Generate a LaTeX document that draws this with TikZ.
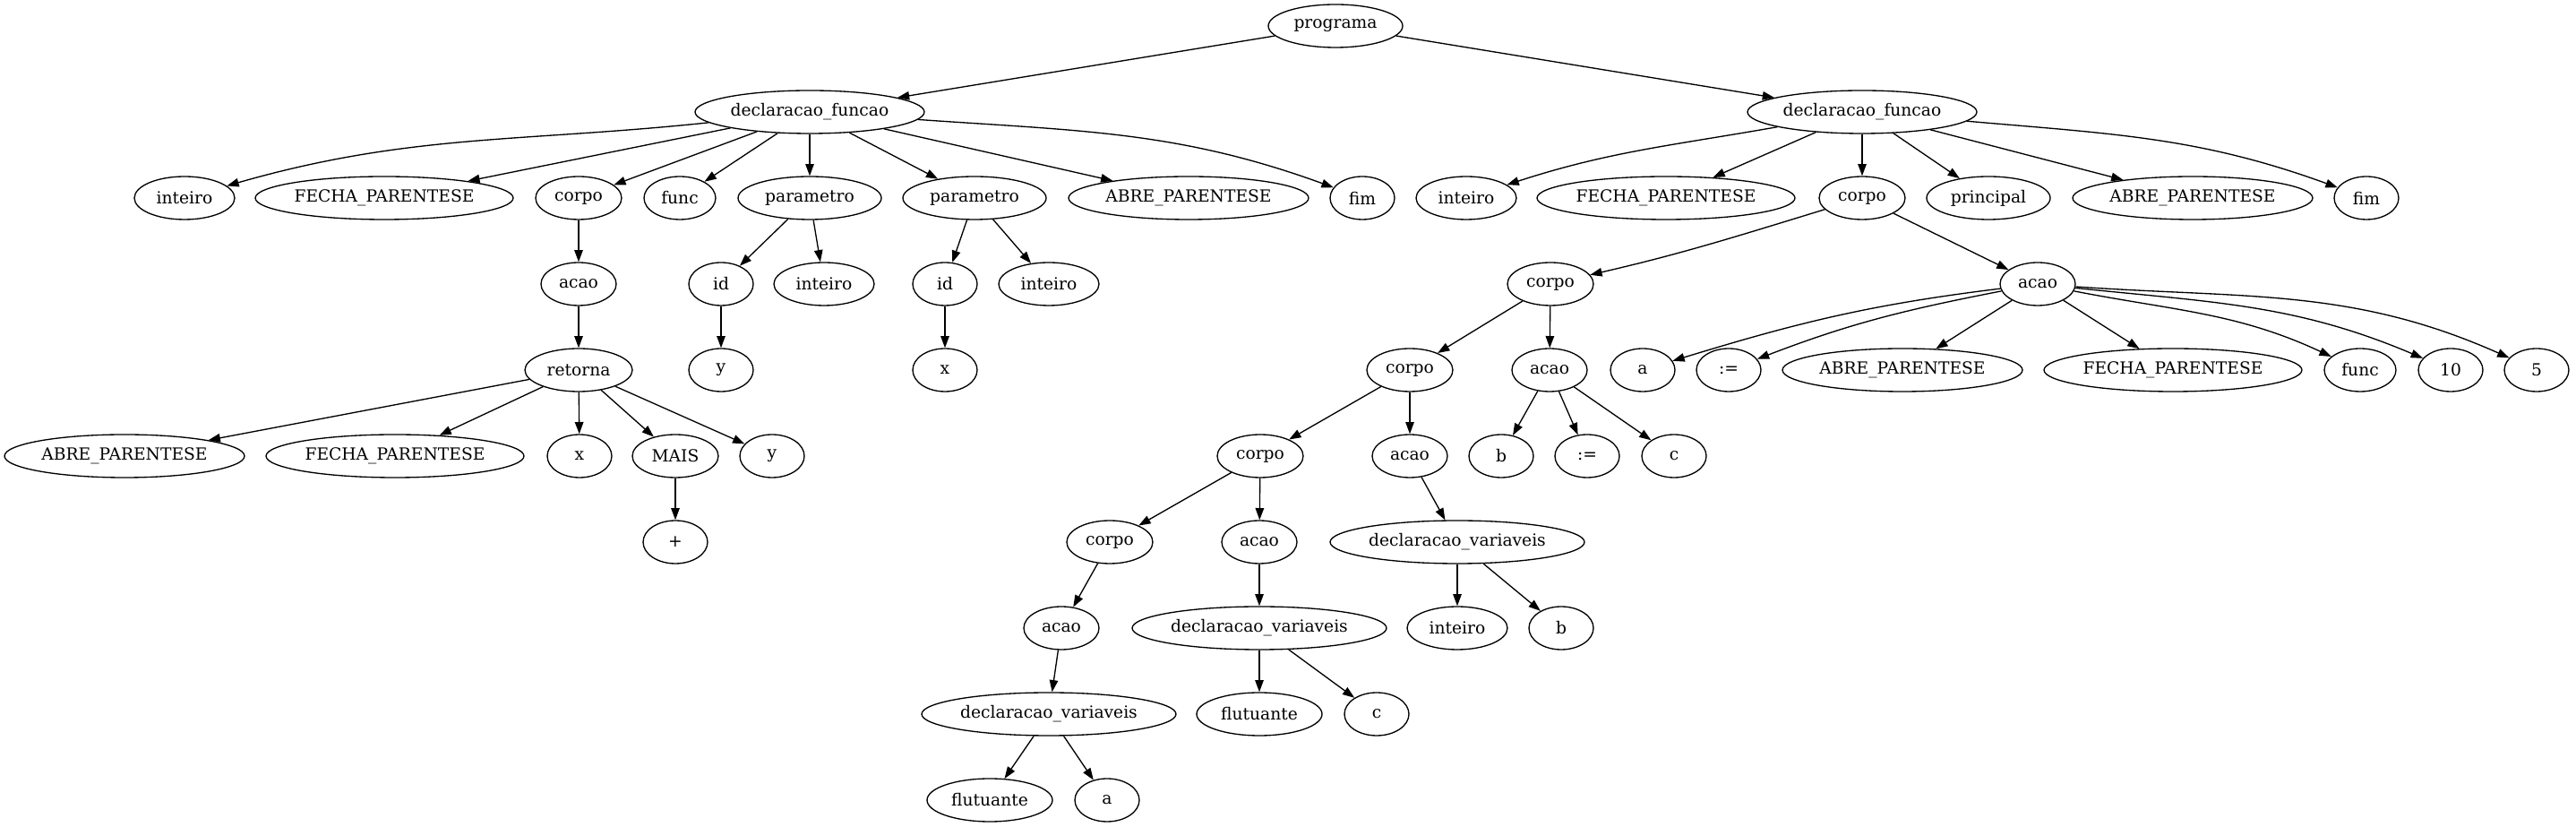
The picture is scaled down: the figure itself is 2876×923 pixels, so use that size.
\documentclass[tikz,border=0pt]{standalone}
\usepackage{fontspec}
\setmainfont{DejaVu Serif}
\usetikzlibrary{shapes.geometric,arrows.meta}
\newcommand{\gvfont}{\fontsize{18.67pt}{22pt}\selectfont}
\tikzset{
  gv/.style={draw, ellipse, line width=1.33pt, inner sep=0pt, minimum height=48pt, minimum width=#1, font=\gvfont},
  gv/.default=72pt,
  ed/.style={-{Triangle[length=13.3pt,width=9.5pt]}, line width=1.33pt}
}
\begin{document}
\begin{tikzpicture}[x=1pt,y=1pt]
\useasboundingbox (0,0) rectangle (2876,923);
% row 0
\node[gv=150pt] (prog) at (1491,894) {programa};
% row 1
\node[gv=256pt] (dfL) at (904,798) {declaracao\_funcao};
\node[gv=256pt] (dfR) at (2079,798) {declaracao\_funcao};
% row 2
\node[gv=112pt] (iL) at (206,702) {inteiro};
\node[gv=288pt] (fpL) at (429,702) {FECHA\_PARENTESE};
\node[gv=96pt] (cL) at (646,702) {corpo};
\node[gv=80pt] (funcL) at (759,702) {func};
\node[gv=160pt] (p1) at (904,702) {parametro};
\node[gv=160pt] (p2) at (1088,702) {parametro};
\node[gv=268pt] (apL) at (1327,702) {ABRE\_PARENTESE};
\node[gv=72pt] (fimL) at (1521,702) {fim};
\node[gv=112pt] (iR) at (1637,702) {inteiro};
\node[gv=288pt] (fpR) at (1860,702) {FECHA\_PARENTESE};
\node[gv=96pt] (cR) at (2079,702) {corpo};
\node[gv=138pt] (princ) at (2220,702) {principal};
\node[gv=268pt] (apR) at (2448,702) {ABRE\_PARENTESE};
\node[gv=72pt] (fimR) at (2642,702) {fim};
% row 3
\node[gv=84pt] (acaoL) at (646,606) {acao};
\node[gv=72pt] (id1) at (805,606) {id};
\node[gv=112pt] (int1) at (920,606) {inteiro};
\node[gv=72pt] (id2) at (1055,606) {id};
\node[gv=112pt] (int2) at (1171,606) {inteiro};
\node[gv=96pt] (c3) at (1731,606) {corpo};
\node[gv=84pt] (acaoR) at (2275,606) {acao};
% row 4
\node[gv=120pt] (ret) at (646,510) {retorna};
\node[gv=72pt] (y1) at (805,510) {y};
\node[gv=72pt] (x1) at (1055,510) {x};
\node[gv=96pt] (c4) at (1574,510) {corpo};
\node[gv=84pt] (a4) at (1730,510) {acao};
\node[gv=72pt] (tA) at (1834,510) {a};
\node[gv=72pt] (tAs) at (1930,510) {:=};
\node[gv=268pt] (tAB) at (2124,510) {ABRE\_PARENTESE};
\node[gv=288pt] (tFP) at (2426,510) {FECHA\_PARENTESE};
\node[gv=80pt] (tfunc) at (2635,510) {func};
\node[gv=72pt] (t10) at (2736,510) {10};
\node[gv=72pt] (t5) at (2832,510) {5};
% row 5
\node[gv=268pt] (ap5) at (139,414) {ABRE\_PARENTESE};
\node[gv=288pt] (fp5) at (441,414) {FECHA\_PARENTESE};
\node[gv=72pt] (x5) at (647,414) {x};
\node[gv=96pt] (mais) at (754,414) {MAIS};
\node[gv=72pt] (y5) at (862,414) {y};
\node[gv=96pt] (c5) at (1407,414) {corpo};
\node[gv=84pt] (a5) at (1574,414) {acao};
\node[gv=72pt] (b5) at (1676,414) {b};
\node[gv=72pt] (as5) at (1772,414) {:=};
\node[gv=72pt] (c5c) at (1869,414) {c};
% row 6
\node[gv=72pt] (plus) at (754,318) {+};
\node[gv=96pt] (c6) at (1239,318) {corpo};
\node[gv=84pt] (a6) at (1406,318) {acao};
\node[gv=284pt] (dv6) at (1627,318) {declaracao\_variaveis};
% row 7
\node[gv=84pt] (a7) at (1185,222) {acao};
\node[gv=284pt] (dv7) at (1406,222) {declaracao\_variaveis};
\node[gv=112pt] (int7) at (1627,222) {inteiro};
\node[gv=72pt] (b7) at (1743,222) {b};
% row 8
\node[gv=284pt] (dv8) at (1171,126) {declaracao\_variaveis};
\node[gv=140pt] (flu8) at (1406,126) {flutuante};
\node[gv=72pt] (c8) at (1537,126) {c};
% row 9
\node[gv=140pt] (flu9) at (1105,30) {flutuante};
\node[gv=72pt] (a9) at (1236,30) {a};
% edges
\draw[ed] (prog) -- (dfL);
\draw[ed] (prog) -- (dfR);
\draw[ed] (dfL) to[out=186,in=16] (iL);
\draw[ed] (dfL) -- (fpL);
\draw[ed] (dfL) -- (cL);
\draw[ed] (dfL) -- (funcL);
\draw[ed] (dfL) -- (p1);
\draw[ed] (dfL) -- (p2);
\draw[ed] (dfL) -- (apL);
\draw[ed] (dfL) to[out=-4,in=160] (fimL);
\draw[ed] (dfR) to[out=190,in=18] (iR);
\draw[ed] (dfR) -- (fpR);
\draw[ed] (dfR) -- (cR);
\draw[ed] (dfR) -- (princ);
\draw[ed] (dfR) -- (apR);
\draw[ed] (dfR) to[out=-5,in=160] (fimR);
\draw[ed] (cL) -- (acaoL);
\draw[ed] (acaoL) -- (ret);
\draw[ed] (ret) -- (ap5);
\draw[ed] (ret) -- (fp5);
\draw[ed] (ret) -- (x5);
\draw[ed] (ret) -- (mais);
\draw[ed] (ret) -- (y5);
\draw[ed] (mais) -- (plus);
\draw[ed] (p1) -- (id1);
\draw[ed] (p1) -- (int1);
\draw[ed] (id1) -- (y1);
\draw[ed] (p2) -- (id2);
\draw[ed] (p2) -- (int2);
\draw[ed] (id2) -- (x1);
\draw[ed] (cR) to[out=197,in=13] (c3);
\draw[ed] (cR) -- (acaoR);
\draw[ed] (c3) -- (c4);
\draw[ed] (c3) -- (a4);
\draw[ed] (acaoR) to[out=187,in=17] (tA);
\draw[ed] (acaoR) to[out=191,in=21] (tAs);
\draw[ed] (acaoR) -- (tAB);
\draw[ed] (acaoR) -- (tFP);
\draw[ed] (acaoR) to[out=-11,in=155] (tfunc);
\draw[ed] (acaoR) to[out=-6,in=157] (t10);
\draw[ed] (acaoR) to[out=-4,in=156] (t5);
\draw[ed] (c4) -- (c5);
\draw[ed] (c4) -- (a5);
\draw[ed] (a4) -- (b5);
\draw[ed] (a4) -- (as5);
\draw[ed] (a4) -- (c5c);
\draw[ed] (c5) -- (c6);
\draw[ed] (c5) -- (a6);
\draw[ed] (a5) -- (dv6);
\draw[ed] (c6) -- (a7);
\draw[ed] (a6) -- (dv7);
\draw[ed] (dv6) -- (int7);
\draw[ed] (dv6) -- (b7);
\draw[ed] (a7) -- (dv8);
\draw[ed] (dv7) -- (flu8);
\draw[ed] (dv7) -- (c8);
\draw[ed] (dv8) -- (flu9);
\draw[ed] (dv8) -- (a9);
\end{tikzpicture}
\end{document}
